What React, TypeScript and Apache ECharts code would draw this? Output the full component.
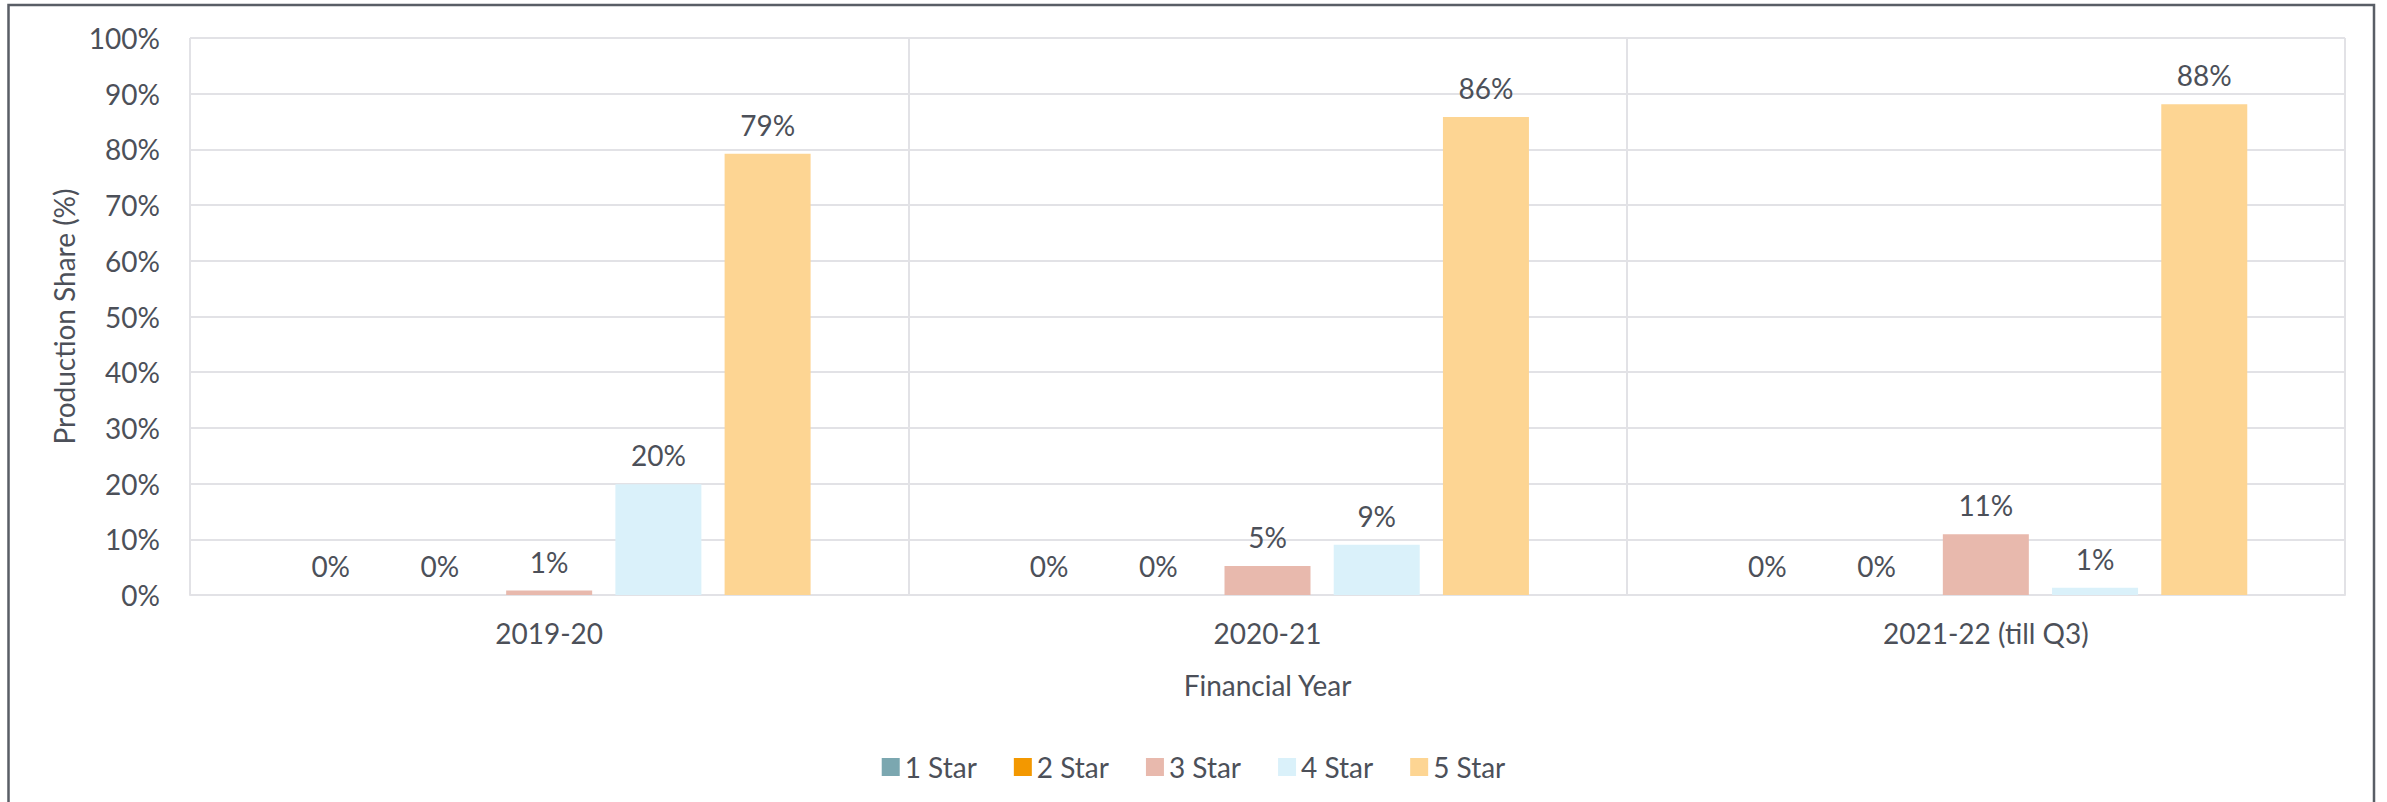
import React, { useEffect, useRef } from "react";
import * as echarts from "echarts";

const categories = ["2019-20", "2020-21", "2021-22 (till Q3)"];
const seriesNames = ["1 Star", "2 Star", "3 Star", "4 Star", "5 Star"];
const star1 = [0, 0, 0];
const star2 = [0, 0, 0];
const star3 = [0.8, 5.2, 10.9];
const star4 = [19.9, 9.0, 1.3];
const star5 = [79.2, 85.8, 88.1];
const yTicks = { min: 0, max: 100, interval: 10 };

const colors = ["#7BA7B0", "#F39800", "#E8B9AD", "#DAF1FA", "#FDD593"];
const textColor = "#4C5059";
const gridColor = "#E2E2E6";
const FONT = "Lato";

export default function App() {
  const ref = useRef<HTMLDivElement>(null);
  useEffect(() => {
    if (!ref.current) return;
    const chart = echarts.init(ref.current, undefined, { renderer: "svg" });
    const values = [star1, star2, star3, star4, star5];
    chart.setOption({
      animation: false,
      textStyle: { fontFamily: FONT },
      grid: { left: 190, right: 42, top: 38, bottom: 207, containLabel: false },
      legend: {
        left: "center",
        top: 748,
        itemWidth: 18,
        itemHeight: 18,
        itemGap: 37,
        icon: "rect",
        textStyle: { color: textColor, fontSize: 28, fontFamily: FONT },
        data: seriesNames,
      },
      xAxis: {
        type: "category",
        data: categories,
        axisLine: { show: true, lineStyle: { color: gridColor, width: 2 } },
        axisTick: { show: false },
        splitLine: { show: true, lineStyle: { color: gridColor, width: 2 } },
        axisLabel: { color: textColor, fontSize: 28, margin: 24, fontFamily: FONT },
        name: "Financial Year",
        nameLocation: "middle",
        nameGap: 76,
        nameTextStyle: { color: textColor, fontSize: 28, fontFamily: FONT },
      },
      yAxis: {
        type: "value",
        min: yTicks.min,
        max: yTicks.max,
        interval: yTicks.interval,
        axisLine: { show: false },
        axisTick: { show: false },
        splitLine: { show: true, lineStyle: { color: gridColor, width: 2 } },
        axisLabel: { color: textColor, fontSize: 28, margin: 30, formatter: "{value}%", fontFamily: FONT },
        name: "Production Share (%)",
        nameLocation: "middle",
        nameGap: 112,
        nameTextStyle: { color: textColor, fontSize: 28, fontFamily: FONT },
      },
      graphic: [
        {
          type: "rect",
          shape: { x: 8.5, y: 5, width: 2365.5, height: 830 },
          style: { fill: "none", stroke: "#595E66", lineWidth: 2.5 },
          silent: true,
          z: 100,
        },
      ],
      series: seriesNames.map((name, i) => ({
        name,
        type: "bar",
        data: values[i],
        barWidth: 86,
        barGap: "27%",
        itemStyle: { color: colors[i] },
        label: {
          show: true,
          position: "top",
          distance: 15,
          color: textColor,
          fontSize: 28,
          fontFamily: FONT,
          formatter: (p: any) => Math.round(p.value) + "%",
        },
      })),
    });
    return () => chart.dispose();
  }, []);
  return (
    <div
      ref={ref}
      style={{ position: "fixed", left: 0, top: 0, width: 2387, height: 802, background: "#fff" }}
    />
  );
}
